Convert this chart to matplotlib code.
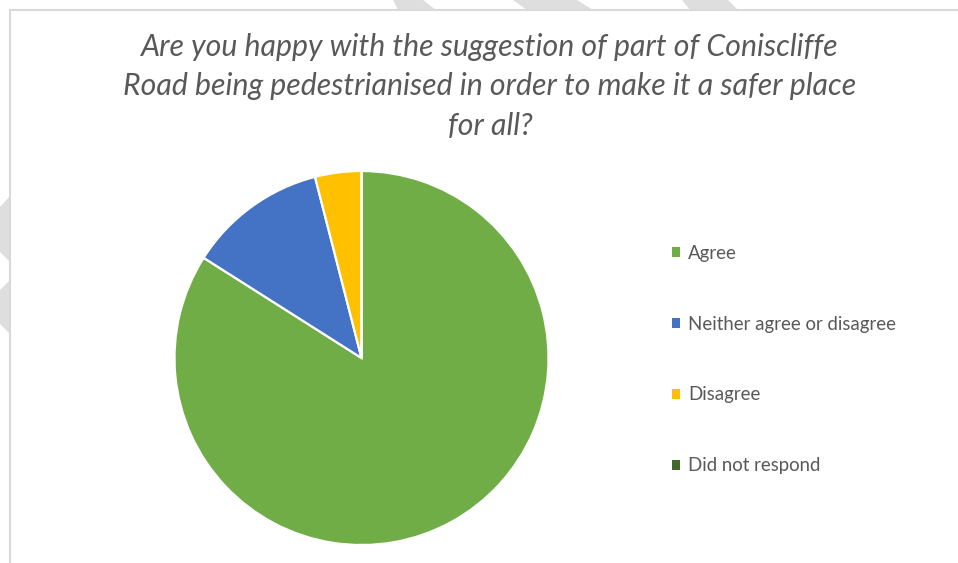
import matplotlib
matplotlib.use("Agg")
import matplotlib.pyplot as plt
from matplotlib.patches import Polygon, Rectangle

plt.rcParams["font.family"] = ["Lato", "DejaVu Sans"]

# survey answers
categories = ["Agree", "Neither agree or disagree", "Disagree", "Did not respond"]
responses = [21, 3, 1, 0]
colors = ["#70AD47", "#4472C4", "#FFC000", "#43682B"]

title = ("Are you happy with the suggestion of part of Coniscliffe\n"
         "Road being pedestrianised in order to make it a safer place\n"
         "for all?")

W, H = 958, 563
TEXT_GREY = "#595959"


def px(x, y):
    """Pixel position (from top-left) to figure fraction."""
    return x / W, 1 - y / H


fig = plt.figure(figsize=(W / 100, H / 100), dpi=100)

# light grey slashes behind the chart frame
stripes = [
    [(393, 0), (423, 0), (436, 10), (398, 10)],
    [(513, 0), (577, 0), (593, 10), (527, 10)],
    [(682, 0), (728, 0), (738, 10), (690, 10)],
    [(0, 207), (10, 196), (10, 262), (0, 252)],
    [(0, 290), (10, 280), (10, 334), (0, 324)],
]
for pts in stripes:
    fig.patches.append(Polygon([px(x, y) for x, y in pts], closed=True,
                               transform=fig.transFigure, facecolor="#DEDEDE",
                               edgecolor="none", zorder=0))

# chart area with its border
fig.patches.append(Rectangle(px(10, H + 5), (W - 5) / W, (H - 5) / H,
                             transform=fig.transFigure, facecolor="white",
                             edgecolor="#D9D9D9", linewidth=1.5, zorder=1))

cx, cy, r = 361.5, 358, 187
x0, y0 = px(cx - r, cy + r)
ax = fig.add_axes([x0, y0, 2 * r / W, 2 * r / H])
wedges, _ = ax.pie(responses, colors=colors, startangle=90, counterclock=False,
                   wedgeprops=dict(edgecolor="white", linewidth=1.6))
ax.set_xlim(-1, 1)
ax.set_ylim(-1, 1)
ax.set_zorder(2)

tx, ty = px(490, 33)
fig.text(tx, ty, title, ha="center", va="top", fontsize=21.8, style="italic",
         color=TEXT_GREY, linespacing=1.49, zorder=3)

lx, ly = px(672, 359.5)
leg = fig.legend(wedges, categories, loc="center left", bbox_to_anchor=(lx, ly),
                 frameon=False, fontsize=13.4, labelcolor=TEXT_GREY,
                 handlelength=0.43, handleheight=0.43, handletextpad=0.45,
                 labelspacing=2.9, borderpad=0, borderaxespad=0)
for h in leg.legend_handles:
    h.set_edgecolor("none")

fig.savefig("out.png", dpi=100)
